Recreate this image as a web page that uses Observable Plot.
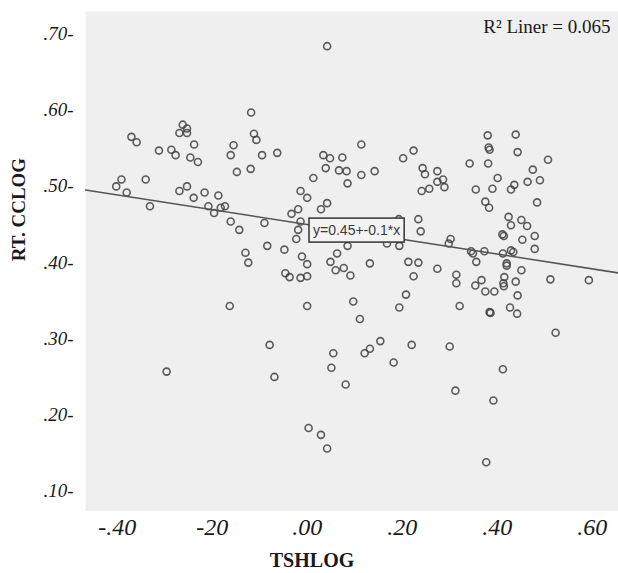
<!DOCTYPE html>
<html>
<head>
<meta charset="utf-8">
<script src="https://cdn.jsdelivr.net/npm/d3@7"></script>
<script src="https://cdn.jsdelivr.net/npm/@observablehq/plot@0.6"></script>
<style>
  body { margin: 0; background: #ffffff; }
  #chart svg { display: block; }
  #chart svg g[aria-label="y-axis tick label"] text,
  #chart svg g[aria-label="x-axis tick label"] text { font-style: italic; }
</style>
</head>
<body>
<div id="chart"></div>
<script>
// ---- data ----
const tshlog = [
  -0.118,-0.370,-0.359,-0.262,-0.253,-0.269,-0.253,-0.238,-0.312,-0.286,
  -0.277,-0.246,-0.230,-0.155,-0.161,-0.112,-0.107,-0.148,-0.119,-0.391,
  -0.402,-0.380,-0.340,-0.331,-0.269,-0.253,-0.239,-0.216,-0.187,-0.208,
  -0.196,-0.182,-0.173,-0.161,-0.143,-0.130,-0.124, 0.042,-0.095,-0.063,
   0.034, 0.048, 0.074, 0.114, 0.039, 0.067, 0.083, 0.085, 0.114, 0.142,
   0.202, 0.224, 0.243, 0.248, 0.241, 0.257, 0.013,-0.014, 0.000, 0.042,
   0.029,-0.019,-0.033,-0.014,-0.090,-0.019,-0.023,-0.084,-0.048, 0.085,
   0.063,-0.011, 0.000, 0.049, 0.060, 0.077, 0.091, 0.132, 0.168, 0.194,
   0.193, 0.234, 0.239, 0.213, 0.234, 0.224,-0.046,-0.037,-0.014, 0.000,
   0.380, 0.439, 0.382, 0.384, 0.443, 0.342, 0.381, 0.507, 0.475, 0.490,
   0.464, 0.401, 0.436, 0.429, 0.390, 0.355, 0.484, 0.375, 0.383, 0.274,
   0.286, 0.274, 0.289, 0.424, 0.429, 0.451, 0.463, 0.411, 0.414, 0.453,
   0.479, 0.479, 0.302, 0.298, 0.345, 0.349, 0.373, 0.356, 0.412, 0.429,
   0.434, 0.420, 0.420, 0.274, 0.314, 0.451, 0.512, 0.593, 0.367, 0.415,
   0.439, 0.314, 0.354, 0.375, 0.394, 0.413, 0.414, 0.443, 0.321, 0.384,
   0.386, 0.427, 0.442, 0.523, 0.300, 0.412, 0.312, 0.392, 0.377, 0.000,
   0.097, 0.111, 0.208, 0.194,-0.079,-0.069, 0.055, 0.051, 0.081, 0.121,
   0.132, 0.154, 0.182, 0.220, 0.003, 0.029, 0.042,-0.163,-0.296
];
const rtcclog = [
   0.597, 0.565, 0.558, 0.581, 0.576, 0.570, 0.570, 0.555, 0.547, 0.548,
   0.541, 0.538, 0.532, 0.554, 0.541, 0.569, 0.561, 0.519, 0.523, 0.509,
   0.500, 0.492, 0.509, 0.474, 0.494, 0.500, 0.485, 0.492, 0.488, 0.474,
   0.465, 0.472, 0.474, 0.454, 0.443, 0.413, 0.400, 0.684, 0.541, 0.544,
   0.541, 0.537, 0.538, 0.555, 0.524, 0.521, 0.520, 0.504, 0.515, 0.520,
   0.537, 0.547, 0.524, 0.516, 0.494, 0.497, 0.511, 0.494, 0.485, 0.478,
   0.470, 0.470, 0.464, 0.454, 0.452, 0.443, 0.431, 0.422, 0.417, 0.422,
   0.412, 0.408, 0.398, 0.401, 0.390, 0.393, 0.383, 0.399, 0.425, 0.422,
   0.457, 0.457, 0.441, 0.401, 0.400, 0.382, 0.386, 0.381, 0.380, 0.382,
   0.567, 0.568, 0.551, 0.548, 0.545, 0.530, 0.530, 0.535, 0.522, 0.508,
   0.506, 0.511, 0.502, 0.496, 0.497, 0.496, 0.479, 0.480, 0.472, 0.520,
   0.509, 0.506, 0.499, 0.460, 0.449, 0.456, 0.448, 0.437, 0.435, 0.430,
   0.435, 0.418, 0.431, 0.425, 0.415, 0.412, 0.415, 0.401, 0.412, 0.416,
   0.414, 0.399, 0.396, 0.392, 0.384, 0.390, 0.378, 0.377, 0.377, 0.381,
   0.375, 0.373, 0.370, 0.362, 0.362, 0.373, 0.369, 0.357, 0.343, 0.335,
   0.334, 0.341, 0.333, 0.308, 0.290, 0.260, 0.232, 0.219, 0.138, 0.343,
   0.349, 0.326, 0.358, 0.341, 0.292, 0.250, 0.281, 0.262, 0.240, 0.281,
   0.287, 0.297, 0.269, 0.292, 0.183, 0.174, 0.156, 0.343, 0.257
];
const xTicks = [-0.4, -0.2, 0.0, 0.2, 0.4, 0.6];
const xTickLabels = ["-.40", "-20", ".00", ".20", ".40", ".60"];
const yTicks = [0.1, 0.2, 0.3, 0.4, 0.5, 0.6, 0.7];
const yTickLabels = [".10-", ".20-", ".30-", ".40-", ".50-", ".60-", ".70-"];
const xDomain = [-0.4667, 0.6554];
const yDomain = [0.0738, 0.7295];
const xTitle = "TSHLOG";
const yTitle = "RT. CCLOG";
const fitIntercept = 0.45;
const fitSlope = -0.097;
const r2Text = "R\u00B2 Liner = 0.065";
const eqText = "y=0.45+-0.1*x";
const eqX = 0.104;
const eqY = 0.442;

// ---- tables built from the arrays ----
const points = tshlog.map((x, i) => ({x, y: rtcclog[i]}));
const fitLine = xDomain.map(x => ({x, y: fitIntercept + fitSlope * x}));

const serif = "'Liberation Serif', 'DejaVu Serif', serif";

const chart = Plot.plot({
  width: 618,
  height: 573,
  marginLeft: 85,
  marginRight: 0,
  marginTop: 11,
  marginBottom: 62.3,
  style: {background: "#ffffff", color: "#1a1a1a", fontFamily: serif},
  x: {domain: xDomain},
  y: {domain: yDomain},
  marks: [
    Plot.frame({fill: "#efefef", stroke: "none"}),
    Plot.axisY({
      ticks: yTicks, tickSize: 0, tickPadding: 12,
      tickFormat: d => yTickLabels[yTicks.findIndex(t => Math.abs(t - d) < 1e-9)],
      fontSize: 19, fontFamily: serif, label: null
    }),
    Plot.axisX({
      ticks: xTicks, tickSize: 0, tickPadding: 7,
      tickFormat: d => xTickLabels[xTicks.findIndex(t => Math.abs(t - d) < 1e-9)],
      fontSize: 24, fontFamily: serif, label: null
    }),
    Plot.dot(points, {x: "x", y: "y", r: 3.5, stroke: "#404040", strokeOpacity: 0.85, strokeWidth: 1.6, fill: "none"}),
    Plot.line(fitLine, {x: "x", y: "y", stroke: "#555555", strokeWidth: 1.5}),
    Plot.text([eqText], {
      x: () => eqX, y: () => eqY, text: d => d,
      fontFamily: "'Liberation Sans', Arial, sans-serif", fontSize: 14, fill: "#3a3a3a"
    }),
    Plot.text([r2Text], {
      frameAnchor: "top-right", text: d => d, textAnchor: "end", lineAnchor: "middle",
      dx: -8, dy: 15, fontSize: 19, fontFamily: serif, fill: "#1a1a1a"
    }),
    Plot.text([xTitle], {
      frameAnchor: "bottom", text: d => d, dx: -40, dy: 49, lineAnchor: "middle",
      fontSize: 20, fontWeight: "bold", fontFamily: serif, fill: "#1a1a1a"
    }),
    Plot.text([yTitle], {
      frameAnchor: "left", text: d => d, dx: -67, rotate: -90, lineAnchor: "middle",
      fontSize: 19, fontWeight: "bold", fontFamily: serif, fill: "#1a1a1a"
    })
  ]
});

document.getElementById("chart").appendChild(chart);

// box around the equation label (same transform as the text)
const eqNode = Array.from(chart.querySelectorAll("text")).find(t => t.textContent === eqText);
if (eqNode) {
  const bb = eqNode.getBBox();
  const padX = 4, padY = 4;
  const rect = document.createElementNS("http://www.w3.org/2000/svg", "rect");
  rect.setAttribute("x", bb.x - padX);
  rect.setAttribute("y", bb.y - padY);
  rect.setAttribute("width", bb.width + 2 * padX);
  rect.setAttribute("height", bb.height + 2 * padY);
  const tf = eqNode.getAttribute("transform");
  if (tf) rect.setAttribute("transform", tf);
  rect.setAttribute("fill", "#f3f3f3");
  rect.setAttribute("stroke", "#333333");
  rect.setAttribute("stroke-width", "1.5");
  eqNode.parentNode.insertBefore(rect, eqNode);
}
</script>
</body>
</html>
